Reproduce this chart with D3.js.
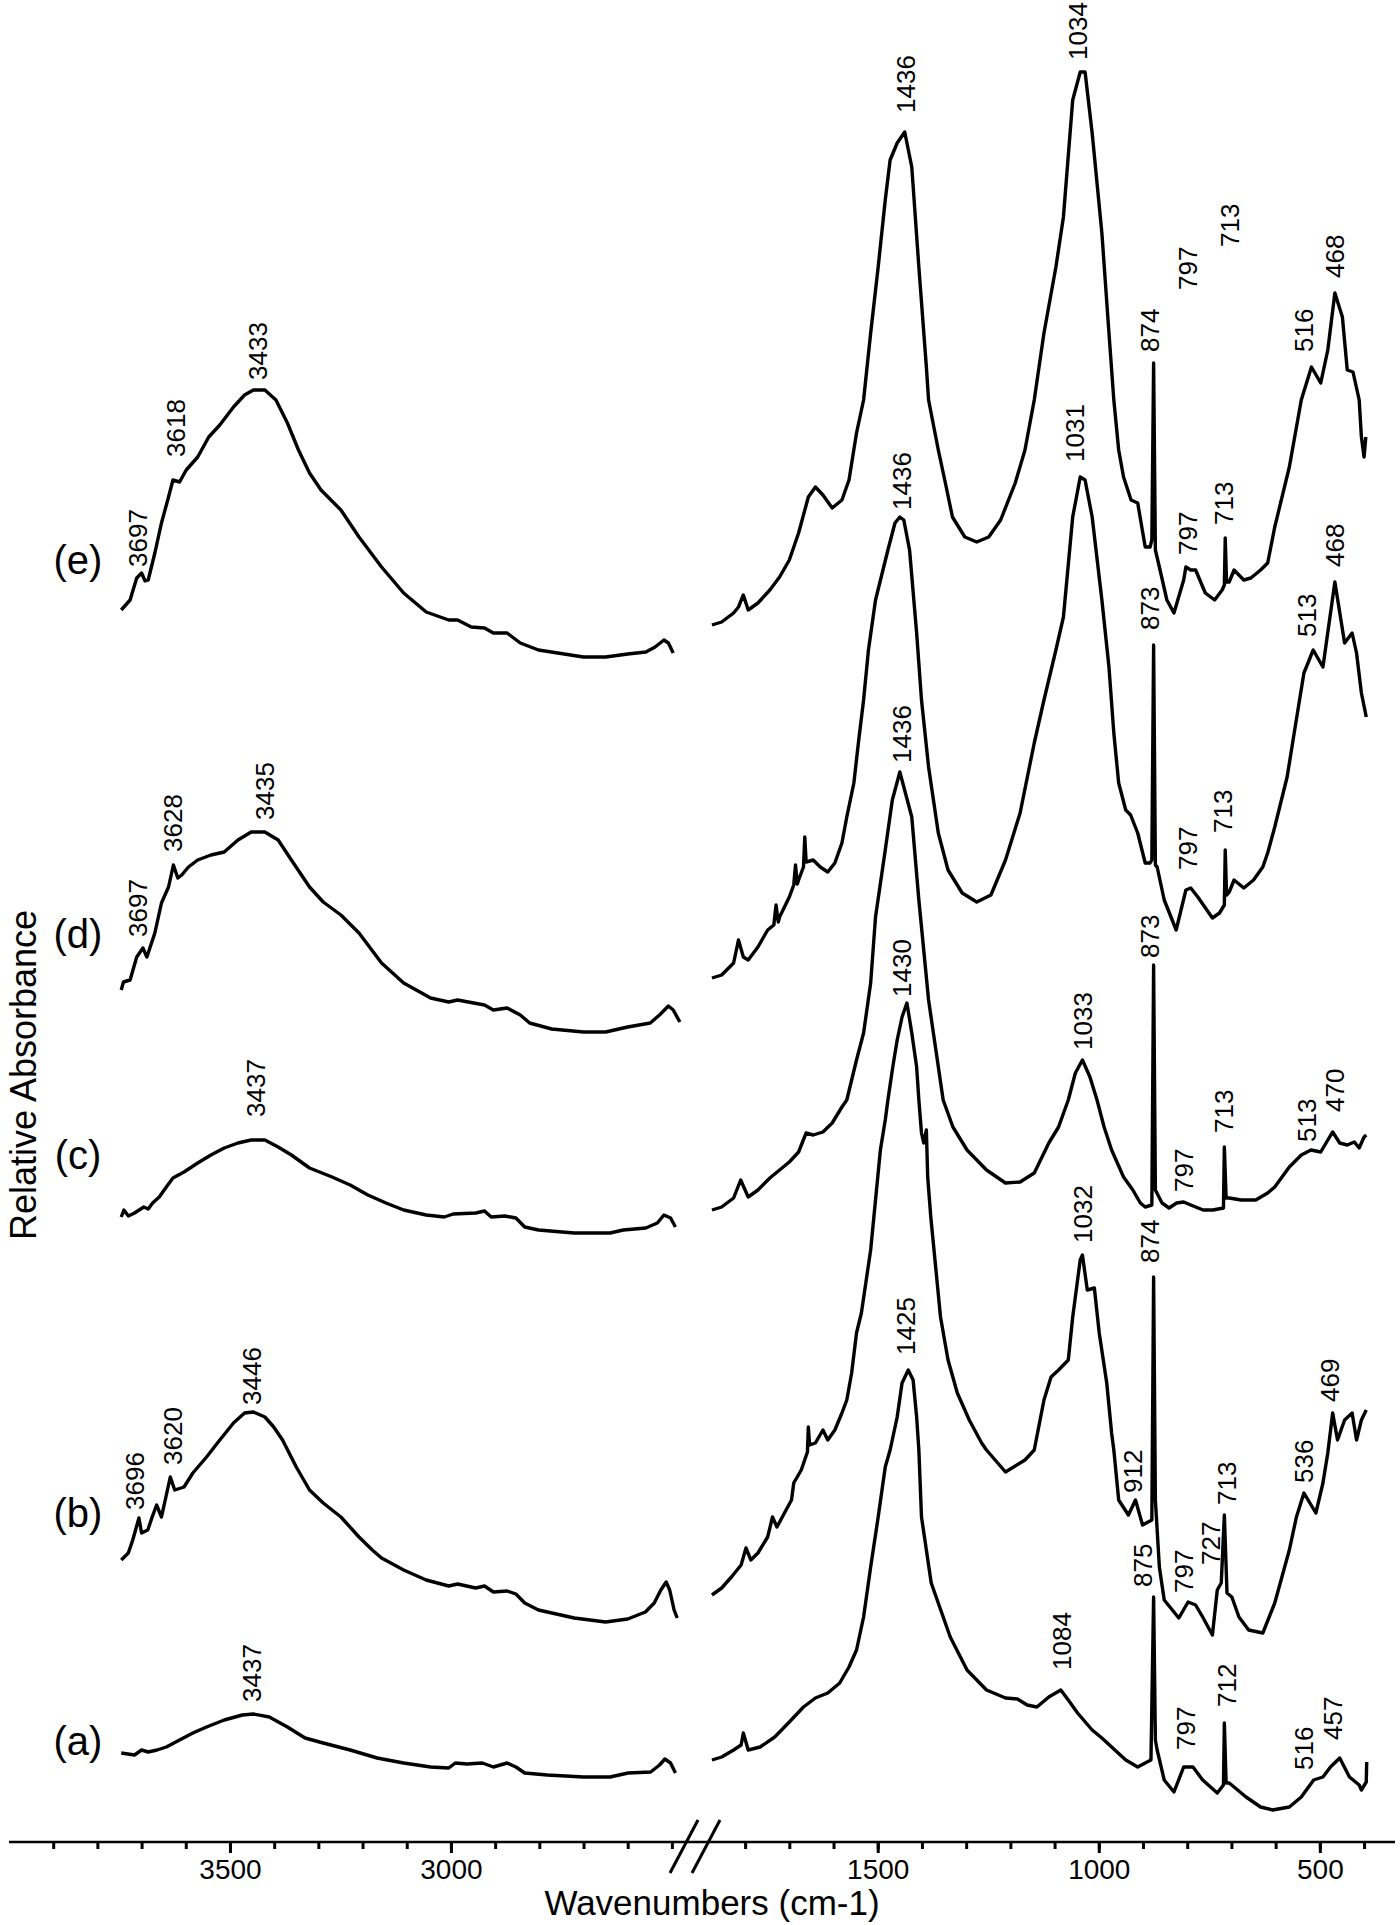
<!DOCTYPE html>
<html>
<head>
<meta charset="utf-8">
<script src="https://cdnjs.cloudflare.com/ajax/libs/d3/7.8.5/d3.min.js"></script>
<style>
  body { margin: 0; background: #fff; }
  svg { display: block; font-family: "Liberation Sans", Arial, sans-serif; }
  .trace { fill: none; stroke: #000; stroke-width: 3.4; stroke-linejoin: round; }
  .peak { font-size: 26px; fill: #000; }
</style>
</head>
<body>
<svg id="chart"></svg>
<script>

// samples, top to bottom, and where their names sit (relative absorbance)
var samples = ["(e)", "(d)", "(c)", "(b)", "(a)"];
var sampleLabelValues = [12.88, 9.14, 6.93, 3.35, 1.07];

// ticks of the broken wavenumber axis
var highTicks = [3900, 3800, 3700, 3600, 3500, 3400, 3300, 3200, 3100, 3000, 2900, 2800, 2700, 2600, 2500];
var lowTicks = [1800, 1700, 1600, 1500, 1400, 1300, 1200, 1100, 1000, 900, 800, 700, 600, 500, 400];
var tickLabels = [3500, 3000, 1500, 1000, 500];

// spectra: [wavenumber, relative absorbance incl. stacking offset]
var eHigh = [[3746,12.40],[3726,12.50],[3711,12.72],[3700,12.77],[3692,12.69],[3685,12.70],[3670,12.97],[3655,13.27],[3639,13.53],[3629,13.70],[3614,13.68],[3599,13.80],[3573,13.93],[3548,14.13],[3523,14.25],[3492,14.43],[3467,14.55],[3447,14.60],[3421,14.60],[3396,14.50],[3370,14.27],[3345,14.00],[3320,13.77],[3294,13.60],[3249,13.40],[3208,13.13],[3157,12.83],[3107,12.57],[3056,12.38],[3005,12.30],[2985,12.30],[2954,12.23],[2924,12.22],[2904,12.17],[2873,12.17],[2843,12.07],[2802,12.00],[2700,11.93],[2650,11.93],[2600,11.96],[2559,11.98],[2538,12.03],[2518,12.10],[2508,12.07],[2497,11.97]];
var eLow = [[1875,12.25],[1853,12.28],[1826,12.37],[1815,12.43],[1804,12.55],[1793,12.40],[1771,12.47],[1744,12.60],[1722,12.73],[1700,12.90],[1679,13.17],[1657,13.53],[1641,13.63],[1624,13.55],[1603,13.42],[1581,13.50],[1565,13.70],[1548,14.17],[1532,14.50],[1516,15.17],[1499,15.83],[1483,16.50],[1472,16.90],[1456,17.07],[1439,17.18],[1423,16.83],[1407,15.83],[1390,14.83],[1385,14.50],[1363,14.00],[1347,13.67],[1331,13.33],[1303,13.13],[1276,13.08],[1249,13.13],[1222,13.30],[1189,13.67],[1167,14.00],[1146,14.50],[1124,15.17],[1097,15.83],[1080,16.33],[1059,17.50],[1042,17.78],[1031,17.78],[1015,17.17],[993,16.17],[977,15.17],[966,14.50],[955,14.00],[944,13.73],[927,13.50],[912,13.47],[895,13.03],[884,13.03],[880,13.10],[876,14.87],[872,13.00],[863,12.83],[846,12.50],[830,12.37],[808,12.70],[803,12.83],[792,12.80],[781,12.80],[759,12.57],[738,12.50],[721,12.60],[716,12.65],[714,13.12],[711,12.68],[705,12.68],[694,12.80],[672,12.70],[656,12.72],[634,12.80],[618,12.87],[602,13.23],[569,13.83],[542,14.50],[519,14.83],[498,14.67],[482,15.00],[466,15.57],[449,15.33],[438,14.80],[425,14.78],[411,14.50],[406,14.13],[400,13.93],[396,14.13]];

var dHigh = [[3746,8.60],[3741,8.68],[3726,8.70],[3711,8.93],[3697,9.02],[3688,8.93],[3670,9.17],[3655,9.47],[3639,9.63],[3628,9.85],[3618,9.72],[3609,9.75],[3594,9.83],[3573,9.90],[3543,9.95],[3513,9.98],[3482,10.10],[3452,10.18],[3421,10.18],[3391,10.10],[3361,9.90],[3320,9.63],[3289,9.48],[3249,9.35],[3208,9.17],[3157,8.87],[3107,8.67],[3046,8.52],[3005,8.48],[2985,8.50],[2924,8.45],[2904,8.40],[2873,8.42],[2843,8.35],[2822,8.27],[2772,8.21],[2700,8.18],[2650,8.18],[2600,8.23],[2549,8.27],[2528,8.35],[2508,8.44],[2497,8.40],[2482,8.28]];
var dLow = [[1875,8.72],[1853,8.75],[1826,8.87],[1815,9.10],[1804,8.93],[1793,8.90],[1771,9.03],[1749,9.20],[1735,9.25],[1730,9.45],[1725,9.28],[1722,9.33],[1700,9.53],[1690,9.65],[1686,9.85],[1682,9.66],[1679,9.70],[1668,9.83],[1665,10.13],[1662,9.88],[1646,9.90],[1630,9.83],[1613,9.78],[1597,9.87],[1581,10.07],[1570,10.33],[1554,10.67],[1543,11.10],[1532,11.50],[1521,12.00],[1505,12.50],[1477,13.00],[1461,13.27],[1450,13.33],[1441,13.30],[1428,13.00],[1412,12.17],[1401,11.50],[1385,10.83],[1363,10.17],[1341,9.80],[1309,9.57],[1276,9.48],[1244,9.55],[1211,9.90],[1178,10.37],[1146,11.07],[1124,11.50],[1097,12.00],[1080,12.33],[1059,13.33],[1042,13.73],[1031,13.70],[1015,13.33],[993,12.50],[977,11.83],[966,11.17],[955,10.67],[939,10.40],[928,10.35],[912,10.17],[895,9.87],[884,9.87],[880,9.90],[876,12.05],[872,9.85],[868,9.83],[852,9.50],[825,9.20],[803,9.60],[792,9.62],[776,9.53],[743,9.32],[727,9.37],[716,9.45],[714,10.00],[711,9.55],[705,9.58],[694,9.70],[672,9.62],[650,9.70],[629,9.83],[618,9.97],[602,10.23],[574,10.73],[558,11.17],[536,11.77],[515,12.00],[493,11.83],[466,12.68],[444,12.07],[427,12.17],[417,11.97],[406,11.57],[395,11.33]];

var cHigh = [[3746,6.33],[3740,6.40],[3730,6.34],[3716,6.37],[3695,6.43],[3685,6.41],[3675,6.47],[3660,6.53],[3644,6.63],[3629,6.72],[3604,6.78],[3573,6.87],[3543,6.95],[3513,7.02],[3482,7.07],[3452,7.10],[3421,7.10],[3391,7.03],[3361,6.95],[3320,6.82],[3269,6.73],[3228,6.65],[3188,6.55],[3147,6.47],[3107,6.40],[3056,6.35],[3015,6.33],[2995,6.36],[2944,6.37],[2924,6.39],[2909,6.33],[2878,6.34],[2853,6.32],[2833,6.23],[2802,6.20],[2721,6.17],[2640,6.17],[2610,6.20],[2559,6.22],[2533,6.27],[2518,6.35],[2503,6.32],[2492,6.23]];
var cLow = [[1875,6.40],[1853,6.43],[1826,6.52],[1810,6.70],[1793,6.53],[1771,6.60],[1744,6.72],[1722,6.80],[1700,6.88],[1679,6.98],[1662,7.17],[1646,7.15],[1624,7.18],[1603,7.27],[1581,7.43],[1570,7.50],[1548,7.90],[1532,8.17],[1516,8.67],[1505,9.33],[1483,10.00],[1467,10.50],[1450,10.78],[1423,10.33],[1407,9.50],[1385,8.50],[1352,7.50],[1330,7.23],[1298,7.00],[1254,6.80],[1211,6.67],[1178,6.68],[1146,6.77],[1113,7.07],[1091,7.23],[1069,7.50],[1053,7.77],[1037,7.90],[1020,7.73],[1004,7.50],[988,7.23],[971,7.00],[944,6.73],[923,6.60],[906,6.47],[895,6.43],[880,6.45],[876,8.85],[872,6.60],[857,6.47],[841,6.42],[824,6.47],[808,6.48],[792,6.45],[764,6.40],[742,6.40],[718,6.42],[716,7.03],[712,6.52],[705,6.52],[678,6.50],[645,6.50],[618,6.57],[602,6.63],[569,6.83],[542,6.95],[520,7.00],[498,6.98],[482,7.10],[471,7.18],[455,7.07],[438,7.05],[422,7.08],[411,7.02],[400,7.13],[395,7.15]];

var bHigh = [[3746,2.90],[3730,2.97],[3720,3.10],[3706,3.32],[3700,3.17],[3686,3.20],[3676,3.33],[3666,3.45],[3655,3.33],[3645,3.53],[3635,3.73],[3625,3.60],[3604,3.63],[3584,3.77],[3553,3.93],[3523,4.10],[3492,4.27],[3467,4.37],[3447,4.38],[3421,4.33],[3401,4.23],[3381,4.10],[3350,3.83],[3320,3.60],[3289,3.47],[3249,3.33],[3208,3.13],[3178,3.00],[3157,2.92],[3107,2.80],[3056,2.70],[3005,2.64],[2985,2.66],[2944,2.62],[2924,2.64],[2904,2.58],[2873,2.59],[2853,2.56],[2833,2.47],[2802,2.40],[2721,2.32],[2650,2.28],[2600,2.31],[2560,2.38],[2540,2.47],[2525,2.60],[2513,2.68],[2505,2.60],[2495,2.40],[2488,2.32]];
var bLow = [[1875,2.55],[1853,2.62],[1831,2.73],[1809,2.85],[1798,3.02],[1787,2.90],[1771,2.97],[1749,3.13],[1738,3.33],[1728,3.23],[1711,3.37],[1695,3.50],[1690,3.67],[1673,3.80],[1659,3.98],[1657,4.23],[1654,4.05],[1641,4.07],[1624,4.20],[1613,4.10],[1597,4.20],[1581,4.37],[1570,4.50],[1559,4.77],[1548,5.17],[1537,5.37],[1527,5.67],[1516,6.00],[1505,6.50],[1494,7.00],[1483,7.30],[1477,7.50],[1466,7.83],[1456,8.10],[1445,8.33],[1434,8.47],[1423,8.17],[1412,7.83],[1407,7.50],[1401,7.17],[1396,7.07],[1390,7.20],[1387,6.73],[1380,6.33],[1369,5.83],[1358,5.33],[1341,4.90],[1320,4.57],[1293,4.30],[1265,4.07],[1254,4.00],[1211,3.78],[1167,3.90],[1146,4.00],[1124,4.50],[1108,4.73],[1091,4.80],[1069,4.90],[1059,5.33],[1042,5.90],[1037,5.95],[1026,5.60],[1010,5.62],[999,5.17],[982,4.67],[971,4.17],[966,4.00],[955,3.50],[933,3.35],[917,3.50],[901,3.25],[880,3.30],[876,5.73],[872,3.50],[863,2.83],[852,2.50],[819,2.32],[798,2.48],[781,2.45],[765,2.33],[743,2.15],[732,2.60],[723,2.67],[716,3.35],[710,2.57],[699,2.53],[683,2.33],[661,2.20],[629,2.17],[602,2.47],[569,3.00],[553,3.33],[536,3.57],[509,3.37],[493,3.67],[482,3.97],[471,4.37],[460,4.10],[444,4.30],[427,4.37],[417,4.10],[406,4.30],[395,4.40]];

var aHigh = [[3746,0.97],[3716,0.95],[3700,1.00],[3685,0.98],[3665,1.00],[3644,1.03],[3614,1.10],[3584,1.17],[3553,1.23],[3513,1.30],[3472,1.35],[3447,1.36],[3411,1.33],[3370,1.23],[3330,1.12],[3289,1.07],[3228,1.00],[3167,0.92],[3107,0.87],[3046,0.83],[3005,0.82],[2990,0.87],[2964,0.86],[2929,0.87],[2904,0.83],[2873,0.87],[2853,0.83],[2833,0.77],[2782,0.75],[2700,0.73],[2640,0.73],[2599,0.77],[2548,0.78],[2528,0.85],[2516,0.91],[2503,0.87],[2492,0.77]];
var aLow = [[1875,0.90],[1853,0.93],[1826,1.00],[1809,1.05],[1804,1.17],[1793,1.00],[1766,1.03],[1733,1.13],[1700,1.28],[1668,1.43],[1641,1.52],[1613,1.57],[1586,1.67],[1565,1.83],[1548,2.00],[1532,2.33],[1516,2.83],[1499,3.33],[1483,3.83],[1472,4.00],[1456,4.33],[1445,4.67],[1431,4.80],[1420,4.70],[1412,4.33],[1407,4.00],[1401,3.33],[1379,2.67],[1336,2.13],[1298,1.80],[1254,1.60],[1211,1.52],[1184,1.51],[1162,1.45],[1140,1.43],[1113,1.53],[1086,1.60],[1069,1.50],[1048,1.37],[1015,1.20],[993,1.12],[971,1.03],[939,0.90],[912,0.83],[895,0.87],[882,0.90],[876,2.53],[872,1.10],[868,1.00],[852,0.70],[830,0.58],[808,0.83],[787,0.83],[765,0.70],[732,0.57],[718,0.65],[716,1.27],[712,0.67],[705,0.67],[694,0.63],[667,0.53],[634,0.43],[607,0.40],[569,0.43],[542,0.53],[514,0.70],[493,0.73],[476,0.83],[455,0.92],[433,0.73],[411,0.65],[406,0.60],[395,0.68],[394,0.88]];

// peak labels: [text, wavenumber of label, absorbance at label foot]
var eHighLabels = [["3697",3710,12.83],["3618",3624,13.93],["3433",3437,14.70]];
var eLowLabels = [["1436",1436,17.37],["1034",1049,17.90],["874",884,14.98],["797",798,15.60],["713",705,16.03],["516",536,14.98],["468",466,15.72],["797",798,12.95],["713",717,13.25]];
var dHighLabels = [["3697",3710,9.13],["3628",3629,9.98],["3435",3421,10.30]];
var dLowLabels = [["1436",1445,13.40],["1031",1054,13.88],["873",884,12.20],["797",798,9.80],["713",721,10.17],["513",531,12.13],["468",466,12.83]];
var cHighLabels = [["3437",3441,7.33]];
var cLowLabels = [["1436",1445,10.87],["1033",1036,8.00],["873",884,8.92],["797",807,6.58],["713",717,7.17],["513",531,7.08],["470",466,7.38]];
var bHighLabels = [["3696",3715,3.40],["3620",3629,3.85],["3446",3452,4.45]];
var bLowLabels = [["1430",1445,8.53],["1032",1036,6.07],["874",884,5.87],["912",923,3.57],["797",807,2.57],["727",748,2.85],["713",710,3.45],["536",536,3.67],["469",477,4.48]];
var aHighLabels = [["3437",3450,1.48]];
var aLowLabels = [["1425",1438,4.95],["1084",1085,1.80],["875",900,2.63],["797",803,1.00],["712",710,1.43],["516",536,0.80],["457",470,1.10]];

var highSeries = [eHigh, dHigh, cHigh, bHigh, aHigh];
var lowSeries = [eLow, dLow, cLow, bLow, aLow];
var highLabels = [eHighLabels, dHighLabels, cHighLabels, bHighLabels, aHighLabels];
var lowLabels = [eLowLabels, dLowLabels, cLowLabels, bLowLabels, aLowLabels];

var width = 1400,
    height = 1925,
    axisY = 1842;

var svg = d3.select("#chart")
    .attr("width", width)
    .attr("height", height);

// two pieces of the wavenumber axis, same cm-1 per pixel
var xHigh = d3.scaleLinear().domain([4000, 2450]).range([9, 694]);
var xLow = d3.scaleLinear().domain([1850, 330]).range([723, 1395]);
var y = d3.scaleLinear().domain([0, 18.5]).range([1850, 0]);

var lineHigh = d3.line().x(function(d) { return xHigh(d[0]); }).y(function(d) { return y(d[1]); });
var lineLow = d3.line().x(function(d) { return xLow(d[0]); }).y(function(d) { return y(d[1]); });

function drawPeakLabels(data, x) {
  svg.append("g").selectAll("text")
    .data(data)
    .join("text")
      .attr("class", "peak")
      .attr("transform", function(d) { return "translate(" + x(d[1]) + "," + y(d[2]) + ") rotate(-90)"; })
      .attr("dy", "0.36em")
      .text(function(d) { return d[0]; });
}

samples.forEach(function(name, i) {
  svg.append("path").datum(highSeries[i]).attr("class", "trace").attr("d", lineHigh);
  svg.append("path").datum(lowSeries[i]).attr("class", "trace").attr("d", lineLow);
  drawPeakLabels(highLabels[i], xHigh);
  drawPeakLabels(lowLabels[i], xLow);

  svg.append("text")
    .attr("x", 78)
    .attr("y", y(sampleLabelValues[i]))
    .attr("dy", "0.3em")
    .attr("text-anchor", "middle")
    .attr("font-size", "40px")
    .text(name);
});

// axis line runs through the break
svg.append("line")
  .attr("x1", xHigh.range()[0]).attr("x2", xLow.range()[1])
  .attr("y1", axisY).attr("y2", axisY)
  .attr("stroke", "#000").attr("stroke-width", 2.5);

function drawTicks(scale, values, size, labels) {
  var axis = d3.axisBottom(scale)
    .tickValues(values)
    .tickSize(size)
    .tickPadding(6)
    .tickFormat(labels ? d3.format("d") : "");
  var g = svg.append("g")
    .attr("transform", "translate(0," + axisY + ")")
    .call(axis);
  g.select(".domain").remove();
  g.attr("font-size", 28).attr("font-family", "'Liberation Sans', Arial, sans-serif");
  g.selectAll(".tick line").attr("stroke", "#000").attr("stroke-width", 3);
  g.selectAll(".tick text").attr("fill", "#000");
}

drawTicks(xHigh, highTicks, 7, false);
drawTicks(xLow, lowTicks, 7, false);
drawTicks(xHigh, tickLabels.filter(function(v) { return v > 2000; }), 11, true);
drawTicks(xLow, tickLabels.filter(function(v) { return v < 2000; }), 11, true);

// break marks //
[684, 706].forEach(function(cx) {
  svg.append("line")
    .attr("x1", cx - 14).attr("y1", axisY + 31)
    .attr("x2", cx + 14).attr("y2", axisY - 22)
    .attr("stroke", "#000").attr("stroke-width", 3);
});

svg.append("text")
  .attr("x", 712)
  .attr("y", 1915)
  .attr("text-anchor", "middle")
  .attr("font-size", "35px")
  .text("Wavenumbers (cm-1)");

svg.append("text")
  .attr("transform", "translate(36,1075) rotate(-90)")
  .attr("text-anchor", "middle")
  .attr("font-size", "36px")
  .text("Relative Absorbance");

</script>
</body>
</html>
